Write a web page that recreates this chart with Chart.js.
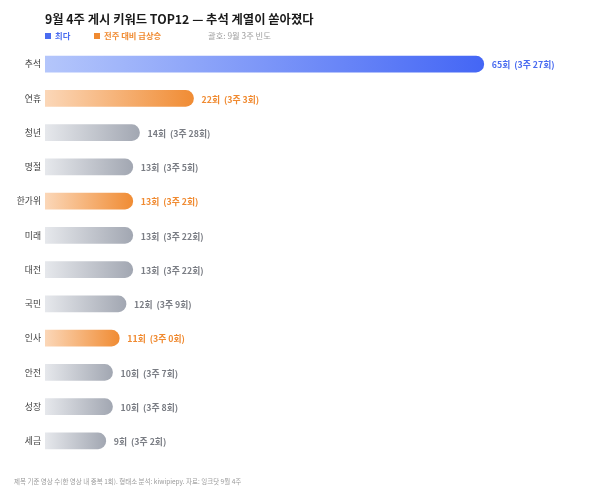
<!DOCTYPE html>
<html>
<head>
<meta charset="utf-8">
<script src="https://cdn.jsdelivr.net/npm/chart.js@4"></script>
<style>
  body { margin: 0; background: #fff; font-family: "Noto Sans CJK KR", "Noto Sans", sans-serif; }
  #wrap { position: relative; width: 600px; height: 500px; }
  #myChart { position: absolute; left: 0; top: 0; }
  .title { position: absolute; left: 45px; top: 10px; font-size: 12.3px; font-weight: 700; color: #1a1a1a; }
  .legend { position: absolute; left: 45px; top: 29px; font-size: 8.3px; font-weight: 700; }
  .legend span { position: absolute; white-space: nowrap; top: 0; }
  .sq { display: inline-block; width: 6px; height: 6px; margin-right: 4px; vertical-align: 0px; }
  .foot { position: absolute; left: 14px; top: 476px; font-size: 6.5px; color: #9a9a9a; white-space: nowrap; }
</style>
</head>
<body>
<div id="wrap">
  <canvas id="myChart" width="600" height="500"></canvas>
  <div class="title">9월 4주 게시 키워드 TOP12 — 추석 계열이 쏟아졌다</div>
  <div class="legend">
    <span style="left:0;color:#4a6cf0"><i class="sq" style="background:#4a6cf0"></i>최다</span>
    <span style="left:49px;color:#f08a30"><i class="sq" style="background:#f08a30"></i>전주 대비 급상승</span>
    <span style="left:163px;color:#a0a0a0;font-weight:400">괄호: 9월 3주 빈도</span>
  </div>
  <div class="foot">제목 기준 영상 수(한 영상 내 중복 1회). 형태소 분석: kiwipiepy. 자료: 잉크닷 9월 4주</div>
</div>
<script>
const keywords = ["추석", "연휴", "청년", "명절", "한가위", "미래", "대전", "국민", "인사", "안전", "성장", "세금"];
const thisWeek = [65, 22, 14, 13, 13, 13, 13, 12, 11, 10, 10, 9];
const lastWeek = [27, 3, 28, 5, 2, 22, 22, 9, 0, 7, 8, 2];
const kinds = ["top", "surge", "base", "base", "surge", "base", "base", "base", "surge", "base", "base", "base"];

const palette = {
    top:   { from: "#b4c6fb", to: "#4466f5", text: "#4a6cf0" },
    surge: { from: "#fbd7b8", to: "#f08c34", text: "#f08a30" },
    base:  { from: "#e6e8ec", to: "#a2a7b2", text: "#7a7d84" }
};

const ctx = document.getElementById('myChart');

// value labels at the end of each bar
const valueLabels = {
    id: 'valueLabels',
    afterDatasetsDraw(chart) {
        const c = chart.ctx;
        const meta = chart.getDatasetMeta(0);
        c.save();
        c.font = "700 8.8px 'Noto Sans CJK KR'";
        c.textBaseline = 'middle';
        meta.data.forEach((bar, i) => {
            c.fillStyle = palette[kinds[i]].text;
            c.fillText(`${thisWeek[i]}회  (3주 ${lastWeek[i]}회)`, bar.x + 8, bar.y + 1);
        });
        c.restore();
    }
};

new Chart(ctx, {
    type: 'bar',
    data: {
        labels: keywords,
        datasets: [{
            label: '9월 4주',
            data: thisWeek,
            barThickness: 16,
            borderRadius: { topLeft: 0, bottomLeft: 0, topRight: 8, bottomRight: 8 },
            borderSkipped: false,
            backgroundColor: (context) => {
                const chart = context.chart;
                const area = chart.chartArea;
                const p = palette[kinds[context.dataIndex]];
                if (!area) return p.to;
                const x0 = chart.scales.x.getPixelForValue(0);
                const x1 = chart.scales.x.getPixelForValue(thisWeek[context.dataIndex]);
                const g = chart.ctx.createLinearGradient(x0, 0, x1, 0);
                g.addColorStop(0, p.from);
                g.addColorStop(1, p.to);
                return g;
            }
        }]
    },
    options: {
        indexAxis: 'y',
        responsive: false,
        animation: false,
        layout: { padding: { top: 47, bottom: 42, left: 0, right: 15 } },
        plugins: {
            legend: { display: false },
            tooltip: { enabled: false }
        },
        scales: {
            x: {
                min: 0,
                max: 80,
                display: false
            },
            y: {
                grid: { display: false, drawTicks: false },
                border: { display: false },
                ticks: {
                    padding: 4,
                    color: '#3a3a3a',
                    font: { family: 'Noto Sans CJK KR', size: 8.8 }
                },
                afterFit: (scale) => { scale.width = 45; }
            }
        }
    },
    plugins: [valueLabels]
});
</script>
</body>
</html>
